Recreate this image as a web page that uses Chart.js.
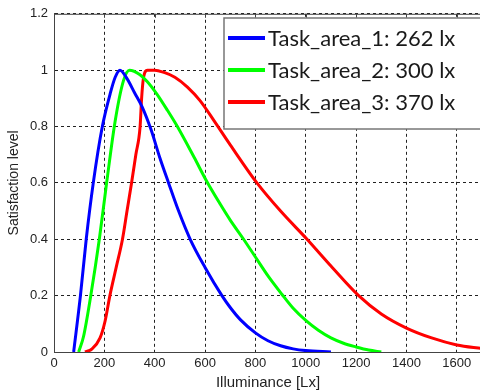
<!DOCTYPE html>
<html>
<head>
<meta charset="utf-8">
<script src="https://cdn.jsdelivr.net/npm/chart.js@4/dist/chart.umd.min.js"></script>
<style>
html,body{margin:0;padding:0;background:#fff;overflow:hidden;width:480px;height:392px;}
canvas{display:block;}
</style>
</head>
<body>
<canvas id="c" width="484" height="392"></canvas>
<script>
// ---- data ----
const seriesLabels = ['Task_area_1: 262 lx', 'Task_area_2: 300 lx', 'Task_area_3: 370 lx'];
const seriesColors = ['#0000ff', '#00ff00', '#ff0000'];

const blueX = [78,105,128,156,192,223,243,262,290,320,350,385,420,455,495,541,600,667,700,740,800,850,900,950,1000,1100];
const blueY = [0,0.2,0.4,0.6,0.8,0.916,0.975,1,0.97,0.92,0.87,0.79,0.69,0.6,0.5,0.4,0.3,0.2,0.158,0.115,0.068,0.04,0.022,0.011,0.005,0];

const greenX = [98,117,146,180,209,243,276,300,340,370,408,451,490,557,607,660,700,753,800,850,905,950,1000,1050,1100,1150,1200,1250,1300];
const greenY = [0,0.054,0.2,0.4,0.6,0.82,0.963,1,0.985,0.96,0.916,0.857,0.8,0.69,0.605,0.525,0.468,0.4,0.337,0.27,0.205,0.155,0.112,0.077,0.05,0.031,0.018,0.007,0];

const redX = [123,150,183,203,222,247,272,290,308,325,342,348,355,371,400,437,480,530,580,636,700,806,900,1005,1100,1210,1300,1400,1500,1600,1700];
const redY = [0,0.01,0.05,0.11,0.2,0.3,0.4,0.5,0.6,0.7,0.8,0.9,0.97,1,1,0.992,0.975,0.94,0.892,0.82,0.735,0.6,0.5,0.4,0.305,0.2,0.135,0.085,0.05,0.025,0.012];

const xTicks = [0,200,400,600,800,1000,1200,1400,1600];
const yTicks = [0,0.2,0.4,0.6,0.8,1,1.2];
const xMin = 0, xMax = 1700, yMin = 0, yMax = 1.2;

const pts = (xs, ys) => xs.map((x, i) => ({x, y: ys[i]}));
const allX = [blueX, greenX, redX], allY = [blueY, greenY, redY];

const datasets = seriesLabels.map((lab, i) => ({
  label: lab,
  data: pts(allX[i], allY[i]),
  borderColor: seriesColors[i],
  backgroundColor: seriesColors[i],
  borderWidth: 3,
  pointRadius: 0,
  fill: false,
  cubicInterpolationMode: 'monotone'
}));

const frameAndLegend = {
  id: 'frameAndLegend',
  afterDatasetsDraw(chart) {
    const {ctx, chartArea: a} = chart;
    const xs = chart.scales.x;
    ctx.save();
    ctx.strokeStyle = '#444';
    ctx.lineWidth = 1;
    ctx.setLineDash([]);
    ctx.beginPath();
    ctx.moveTo(a.left, a.top + 0.5);
    ctx.lineTo(a.right, a.top + 0.5);
    ctx.moveTo(a.right - 0.5, a.top);
    ctx.lineTo(a.right - 0.5, a.bottom);
    ctx.stroke();
    ctx.beginPath();
    xs.ticks.forEach(t => {
      const px = Math.round(xs.getPixelForValue(t.value)) + 0.5;
      ctx.moveTo(px, a.top);
      ctx.lineTo(px, a.top + 4);
    });
    ctx.stroke();
    const bx = 224, by = 18, bw = 262, bh = 111;
    ctx.fillStyle = '#fff';
    ctx.fillRect(bx, by, bw, bh);
    ctx.strokeStyle = '#777';
    ctx.lineWidth = 1.5;
    ctx.strokeRect(bx, by, bw, bh);
    ctx.font = '22px Lato, "Open Sans", sans-serif';
    ctx.textBaseline = 'middle';
    ctx.textAlign = 'left';
    chart.data.datasets.forEach((ds, i) => {
      const ly = 38 + i * 32;
      ctx.strokeStyle = ds.borderColor;
      ctx.lineWidth = 4;
      ctx.beginPath();
      ctx.moveTo(228, ly);
      ctx.lineTo(265, ly);
      ctx.stroke();
      ctx.fillStyle = '#1a1a1a';
      ctx.fillText(ds.label, 268, ly + 1);
    });
    ctx.restore();
  }
};

const tickFont = {family: '"Liberation Sans", Arial, sans-serif', size: 13};

new Chart(document.getElementById('c'), {
  type: 'line',
  data: {datasets},
  plugins: [frameAndLegend],
  options: {
    responsive: false,
    animation: false,
    devicePixelRatio: 1,
    layout: {padding: {left: 0, top: 13, right: 2, bottom: 0}},
    plugins: {legend: {display: false}, tooltip: {enabled: false}},
    scales: {
      x: {
        type: 'linear',
        min: xMin, max: xMax,
        afterBuildTicks: s => { s.ticks = xTicks.map(v => ({value: v})); },
        afterFit: s => { s.height = 40; },
        ticks: {autoSkip: false, color: '#222', font: tickFont, padding: 4, maxRotation: 0,
          callback: v => String(v)},
        grid: {color: '#222', lineWidth: 1, drawTicks: false},
        border: {display: true, color: '#444', width: 1, dash: [3, 3]},
        title: {display: true, text: 'Illuminance [Lx]', color: '#222', font: {family: '"Liberation Sans", Arial, sans-serif', size: 15}, padding: {top: 0, bottom: 0}}
      },
      y: {
        type: 'linear',
        min: yMin, max: yMax,
        afterBuildTicks: s => { s.ticks = yTicks.map(v => ({value: v})); },
        afterFit: s => { s.width = 54; },
        ticks: {autoSkip: false, color: '#222', font: tickFont, padding: 6,
          callback: v => String(Math.round(v * 10) / 10)},
        grid: {color: '#222', lineWidth: 1, drawTicks: false},
        border: {display: true, color: '#444', width: 1, dash: [3, 3]},
        title: {display: true, text: 'Satisfaction level', color: '#222', font: {family: '"Liberation Sans", Arial, sans-serif', size: 14}, padding: {top: 6, bottom: 0}}
      }
    }
  }
});
</script>
</body>
</html>
